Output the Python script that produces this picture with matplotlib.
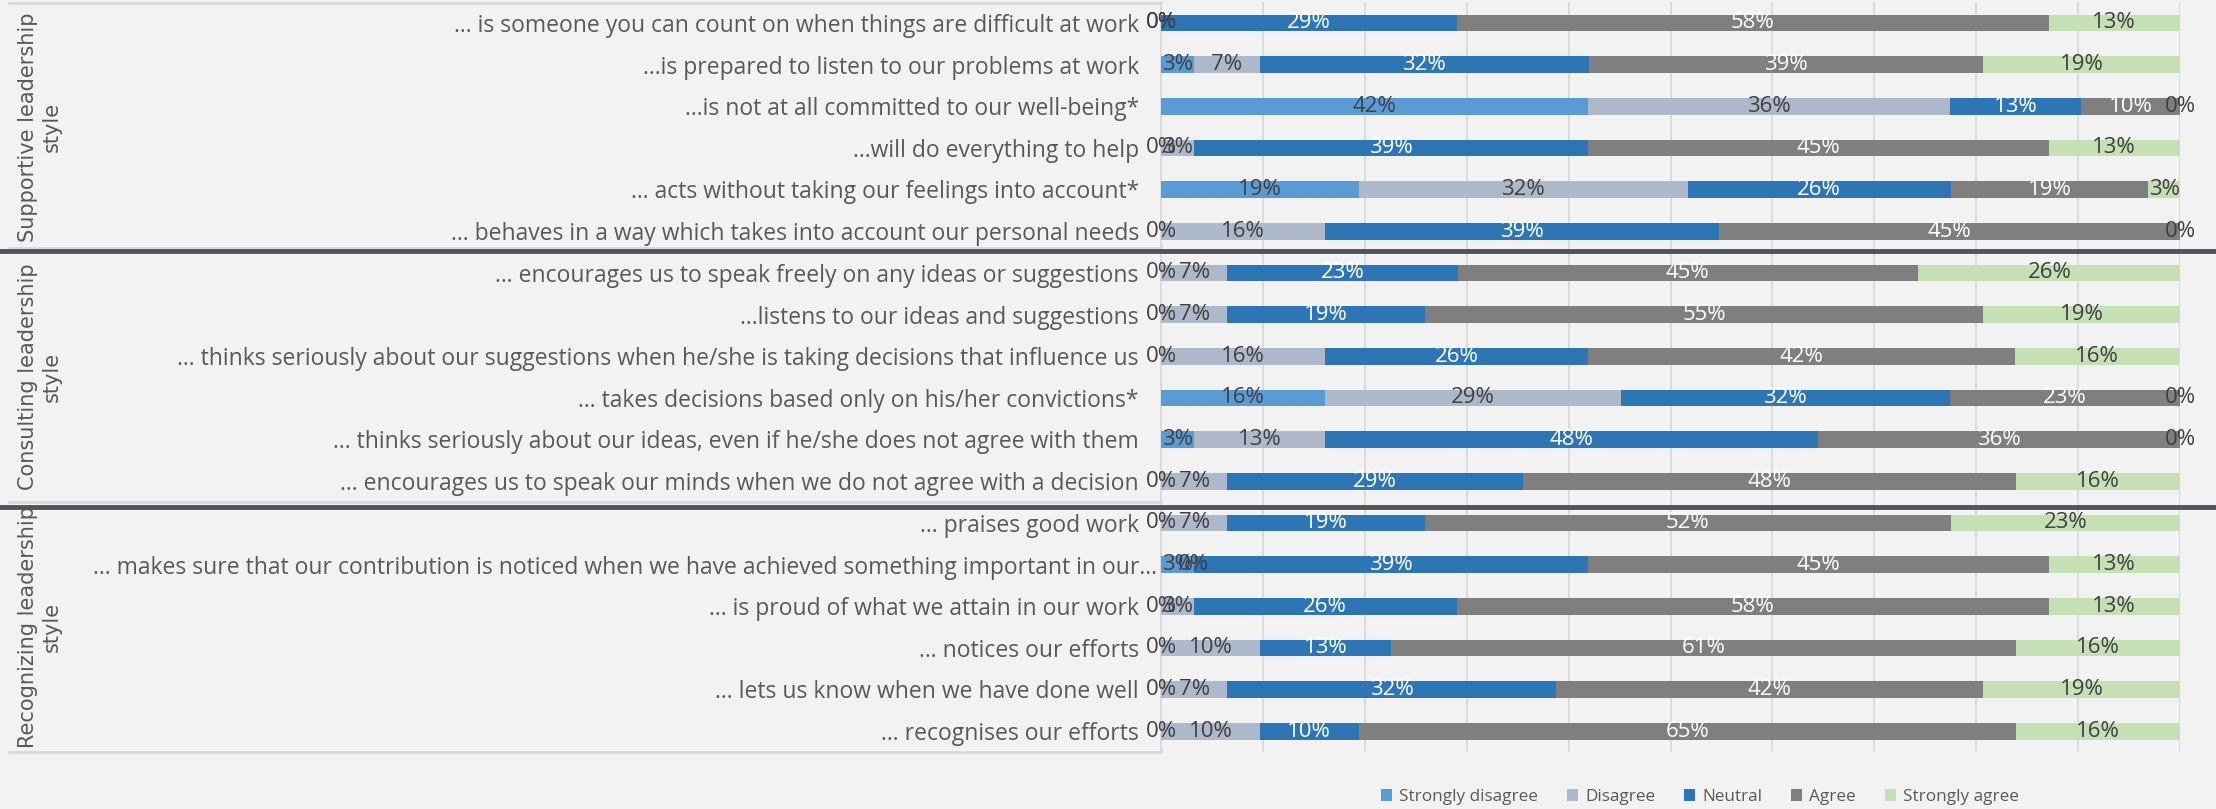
import matplotlib.pyplot as plt
import matplotlib.transforms as mtransforms
from matplotlib.patches import Patch
from matplotlib.lines import Line2D

# statements, top to bottom
statements = [
    "... is someone you can count on when things are difficult at work",
    "...is prepared to listen to our problems at work",
    "...is not at all committed to our well-being*",
    "...will do everything to help",
    "... acts without taking our feelings into account*",
    "... behaves in a way which takes into account our personal needs",
    "... encourages us to speak freely on any ideas or suggestions",
    "...listens to our ideas and suggestions",
    "... thinks seriously about our suggestions when he/she is taking decisions that influence us",
    "... takes decisions based only on his/her convictions*",
    "... thinks seriously about our ideas, even if he/she does not agree with them",
    "... encourages us to speak our minds when we do not agree with a decision",
    "... praises good work",
    "... makes sure that our contribution is noticed when we have achieved something important in our...",
    "... is proud of what we attain in our work",
    "... notices our efforts",
    "... lets us know when we have done well",
    "... recognises our efforts",
]
groups = ["Supportive leadership\nstyle", "Consulting leadership\nstyle", "Recognizing leadership\nstyle"]

series = ["Strongly disagree", "Disagree", "Neutral", "Agree", "Strongly agree"]
strongly_disagree = [0, 3.2, 41.9, 0, 19.4, 0, 0, 0, 0, 16.1, 3.2, 0, 0, 3.2, 0, 0, 0, 0]
disagree = [0, 6.5, 35.5, 3.2, 32.3, 16.1, 6.5, 6.5, 16.1, 29.0, 12.9, 6.5, 6.5, 0, 3.2, 9.7, 6.5, 9.7]
neutral = [29.0, 32.3, 12.9, 38.7, 25.8, 38.7, 22.6, 19.4, 25.8, 32.3, 48.4, 29.0, 19.4, 38.7, 25.8, 12.9, 32.3, 9.7]
agree = [58.1, 38.7, 9.7, 45.2, 19.4, 45.2, 45.2, 54.8, 41.9, 22.6, 35.5, 48.4, 51.6, 45.2, 58.1, 61.3, 41.9, 64.5]
strongly_agree = [12.9, 19.4, 0, 12.9, 3.2, 0, 25.8, 19.4, 16.1, 0, 0, 16.1, 22.6, 12.9, 12.9, 16.1, 19.4, 16.1]

colors = ['#5b9bd5', '#adb9ca', '#2e75b6', '#7f7f7f', '#c5e0b4']
label_colors = ['#404040', '#404040', 'white', 'white', '#404040']
bg = '#f2f2f2'
txt = '#595959'

fig = plt.figure(figsize=(22.16, 8.09), dpi=100, facecolor=bg)
ax = fig.add_axes([1161 / 2216, 57 / 809, 1019 / 2216, 750 / 809])
ax.set_facecolor(bg)

rows = list(range(len(statements)))
left = [0.0] * len(rows)
for name, vals, c, lc in zip(series, [strongly_disagree, disagree, neutral, agree, strongly_agree], colors, label_colors):
    ax.barh(rows, vals, left=left, height=0.4, color=c, label=name, zorder=3)
    for r, v, l in zip(rows, vals, left):
        ax.text(l + v / 2, r, f"{int(v + 0.5)}%", ha='center', va='center',
                fontsize=16, family='Open Sans', color=lc, zorder=4)
    left = [l + v for l, v in zip(left, vals)]

ax.set_xlim(0, 100)
ax.set_ylim(len(rows) - 0.5, -0.5)
ax.set_xticks(range(0, 101, 10))
ax.tick_params(axis='x', length=0, labelbottom=False)
ax.grid(axis='x', color='#d9d9d9', linewidth=1.3, zorder=0)
ax.set_yticks(rows)
ax.set_yticklabels(statements, fontsize=16.5, family='Open Sans', color=txt)
ax.tick_params(axis='y', length=0, pad=16)
# the truncated label sits closer to the bars
lab = ax.get_yticklabels()[13]
lab.set_transform(lab.get_transform() + mtransforms.ScaledTranslation(0.18, 0, fig.dpi_scale_trans))
for s in ['top', 'right', 'bottom']:
    ax.spines[s].set_visible(False)
ax.spines['left'].set_color('#d9d9d9')
ax.spines['left'].set_linewidth(1.3)

# frame lines of the category area and group separators
trans = mtransforms.blended_transform_factory(fig.transFigure, ax.transData)
x_ax = 1161 / 2216
for y in [-0.47, 5.40, 11.5, 17.5]:
    fig.add_artist(Line2D([0.004, x_ax], [y, y], transform=trans, color='#d9d9d9', linewidth=2))
for y in [5.47, 11.61]:
    fig.add_artist(Line2D([0, 1], [y, y], transform=trans, color='#50545a', linewidth=3.5, zorder=5))

for g, yc in zip(groups, [2.5, 8.5, 14.5]):
    fig.text(40 / 2216, yc, g, transform=trans, rotation=90, ha='center', va='center',
             multialignment='center', fontsize=15, linespacing=1.2, color=txt,
             family='DejaVu Sans')

handles = [Patch(facecolor=c) for c in colors]
fig.legend(handles, series, loc='center', bbox_to_anchor=(1700 / 2216, 12 / 809), ncol=5,
           frameon=False, prop={'family': 'Open Sans', 'size': 12.3}, labelcolor=txt,
           handlelength=0.65, handleheight=0.65, handletextpad=0.4, columnspacing=1.7)

fig.savefig('out.png', dpi=100, facecolor=bg)
